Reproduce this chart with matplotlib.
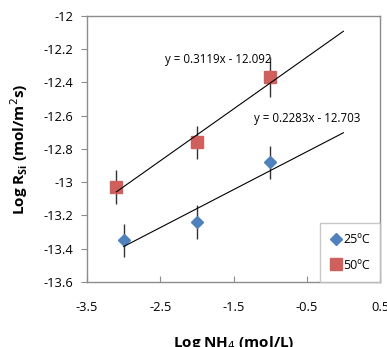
import matplotlib
matplotlib.use("Agg")
import matplotlib.pyplot as plt
import numpy as np

plt.rcParams["font.family"] = ["Open Sans", "DejaVu Sans"]

# log NH4 (mol/L) and log R_Si (mol/m2 s)
x_25 = [-3.0, -2.0, -1.0]
y_25 = [-13.35, -13.24, -12.88]
err_25 = [0.10, 0.10, 0.10]

x_50 = [-3.1, -2.0, -1.0]
y_50 = [-13.03, -12.76, -12.37]
err_50 = [0.10, 0.10, 0.12]

fit_25 = (0.2283, -12.703)
fit_50 = (0.3119, -12.092)
fit_end = 0.0

x_ticks = [-3.5, -2.5, -1.5, -0.5, 0.5]
y_ticks = [-13.6, -13.4, -13.2, -13.0, -12.8, -12.6, -12.4, -12.2, -12.0]

blue = "#4F81BD"
red = "#D0605C"
grey = "#8C8C8C"

fig = plt.figure(figsize=(3.87, 3.47), dpi=100)
ax = fig.add_axes([0.225, 0.188, 0.757, 0.766])

for xs, ys, es in ((x_25, y_25, err_25), (x_50, y_50, err_50)):
    ax.errorbar(xs, ys, yerr=es, fmt="none", ecolor="#333333",
                elinewidth=1.0, capsize=0, zorder=2)

h25, = ax.plot(x_25, y_25, "D", color=blue, markersize=6.5, zorder=3,
               linestyle="none", label="25ºC")
h50, = ax.plot(x_50, y_50, "s", color=red, markersize=8.5, zorder=3,
               linestyle="none", label="50ºC")

for (m, b), xs in ((fit_25, x_25), (fit_50, x_50)):
    xx = np.array([xs[0], fit_end])
    ax.plot(xx, m * xx + b, color="black", lw=0.8, zorder=4)

ax.text(-2.44, -12.265, "y = 0.3119x - 12.092", fontsize=8.3, va="center")
ax.text(-1.22, -12.62, "y = 0.2283x - 12.703", fontsize=8.3, va="center")

ax.set_xlim(-3.5, 0.5)
ax.set_ylim(-13.6, -12.0)
ax.set_xticks(x_ticks)
ax.set_yticks(y_ticks)
ax.set_xticklabels([f"{v:g}" for v in x_ticks])
ax.set_yticklabels([f"{v:g}" for v in y_ticks])
ax.tick_params(axis="x", direction="in", length=4, color=grey, pad=14, labelsize=9.3)
ax.tick_params(axis="y", direction="out", length=4, color=grey, pad=6, labelsize=9.3)
for s in ax.spines.values():
    s.set_color(grey)
    s.set_linewidth(1.0)

ax.set_xlabel("Log NH$_4$ (mol/L)", fontsize=11, fontweight="bold", labelpad=14)
ax.set_ylabel("Log R$_\\mathregular{Si}$ (mol/m$^2$s)", fontsize=11,
              fontweight="bold", labelpad=10)

leg = ax.legend(handles=[h25, h50], loc="lower right", fontsize=9,
                frameon=True, fancybox=False, borderaxespad=0,
                handletextpad=0.1, labelspacing=1.0, handlelength=1.0,
                borderpad=0.8)
leg.get_frame().set_edgecolor("#BBBBBB")
leg.get_frame().set_linewidth(1.0)

fig.savefig("out.png", dpi=100)
